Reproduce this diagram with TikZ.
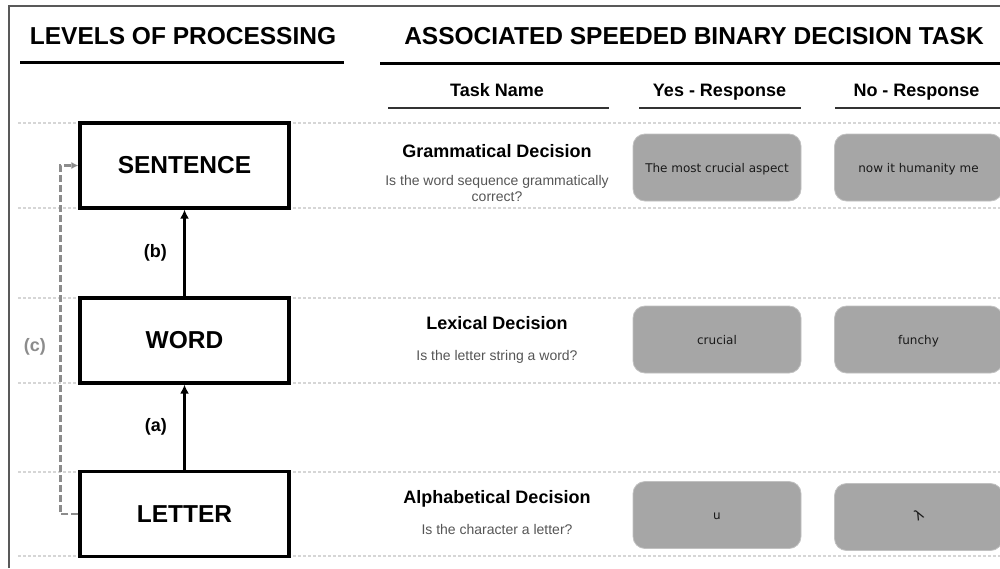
\documentclass[tikz,border=0pt]{standalone}
\usepackage{fontspec}
\setmainfont{Liberation Sans}
\newfontfamily\boxfont{DejaVu Sans}
\usetikzlibrary{arrows.meta}
\definecolor{boxgray}{HTML}{A6A6A6}
\definecolor{dotgray}{HTML}{D6D6D6}
\definecolor{askgray}{HTML}{555555}
\definecolor{linkgray}{HTML}{8C8C8C}

\begin{document}
\begin{tikzpicture}[x = 1pt, y = -1pt,
    level/.style = {draw, line width = 3.2pt, fill = white, minimum width = 209pt, minimum height = 85pt,
                    font = \fontsize{24.5}{28}\selectfont\bfseries},
    response/.style = {draw = boxgray!70!white, line width = 0.8pt, fill = boxgray, rounded corners = 12pt,
                       minimum width = 168pt, minimum height = 67pt, text height = 10pt, text depth = 1pt,
                       text = black!90, font = \boxfont\fontsize{12}{14}\selectfont},
    title/.style = {font = \fontsize{24.5}{28}\selectfont\bfseries},
    head/.style = {anchor = base, font = \fontsize{18}{21}\selectfont\bfseries},
    question/.style = {text = askgray, align = center, font = \fontsize{14}{16}\selectfont},
    tag/.style = {font = \fontsize{18}{21}\selectfont\bfseries},
    rowline/.style = {dotgray, line width = 2.4pt, dash pattern = on 2.5pt off 2.5pt}]
\useasboundingbox (0,0) rectangle (1000,568);
\draw[black!65, line width = 1.4pt] (9,568) -- (9,6) -- (1000,6);
\foreach \y in {123,208,298,383,472,556}
    \draw[rowline] (18,\y) -- (1000,\y);

\node[title] (levels) at (183,36.5) {LEVELS OF PROCESSING};
\node[title] (tasks) at (694,36.5) {ASSOCIATED SPEEDED BINARY DECISION TASK};
\draw[line width = 3pt] (20,62) -- (344,62);
\draw[line width = 3pt] (380,63) -- (1000,63);

\node[head] (taskname) at (497,96) {Task Name};
\node[head] (yeshead) at (719.5,96) {Yes - Response};
\node[head] (nohead) at (916.5,96) {No - Response};
\draw[black!80, line width = 1.4pt] (388,108) -- (609,108);
\draw[black!80, line width = 1.4pt] (639,108) -- (801,108);
\draw[black!80, line width = 1.4pt] (835,108) -- (1000,108);

\node[level] (sentence) at (184.5,165.5) {SENTENCE};
\node[level] (word) at (184.5,340.5) {WORD};
\node[level] (letter) at (184.5,514) {LETTER};

\draw[line width = 2.8pt, -{Latex[length = 9pt, width = 9pt]}] (letter) -- node[tag, left = 13pt] {(a)} (word);
\draw[line width = 2.8pt, -{Latex[length = 9pt, width = 9pt]}] (word) -- node[tag, left = 13pt] {(b)} (sentence);
\draw[linkgray, line width = 2.6pt, dash pattern = on 7pt off 3pt, -{Latex[length = 7pt, width = 7pt]}]
    (letter.west) -- ++(-18,0) |- node[tag, text = linkgray, pos = 0.24, left = 10pt] {(c)} (sentence.west);

\node[head] (gram) at (497,157) {Grammatical Decision};
\node[question] (gramask) at (497,188) {Is the word sequence grammatically\\correct?};
\node[head] (lex) at (497,329) {Lexical Decision};
\node[question, anchor = base] (lexask) at (497,360) {Is the letter string a word?};
\node[head] (alpha) at (497,503) {Alphabetical Decision};
\node[question, anchor = base] (alphaask) at (497,534) {Is the character a letter?};

\node[response] (yesgram) at (717,167.5) {The most crucial aspect};
\node[response] (nogram) at (918.5,167.5) {now it humanity me};
\node[response] (yeslex) at (717,339.5) {crucial};
\node[response] (nolex) at (918.5,339.5) {funchy};
\node[response] (yesalpha) at (717,515) {u};
\node[response] (noalpha) at (918.5,517) {\fontsize{14}{16}\selectfont\rotatebox{30}{λ}};
\end{tikzpicture}
\end{document}
